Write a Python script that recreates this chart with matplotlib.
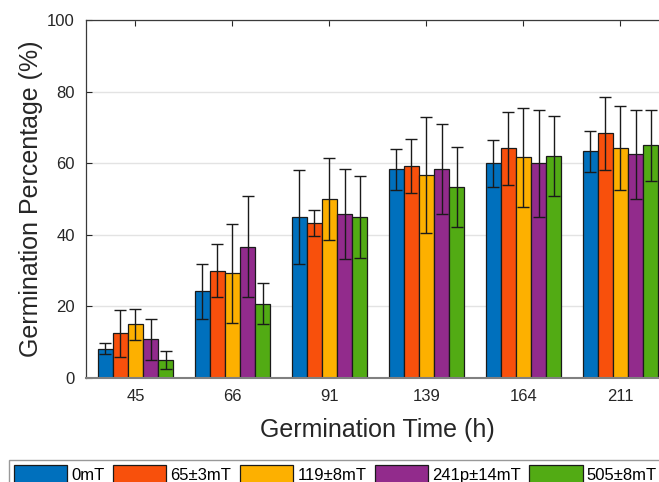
"""Germination percentage vs. germination time for five magnetic field levels."""
import matplotlib
matplotlib.use("Agg")
import matplotlib.pyplot as plt
import numpy as np

plt.rcParams["font.family"] = ["Liberation Sans", "DejaVu Sans"]

# Data
times = ["45", "66", "91", "139", "164", "211"]
labels = ["0mT", "65\u00b13mT", "119\u00b18mT", "241p\u00b114mT", "505\u00b18mT"]
colors = ["#0070BD", "#F8500C", "#FDB000", "#922B8C", "#52AB14"]

means = [
    [8.2, 24.2, 45.0, 58.3, 60.0, 63.3],   # 0mT
    [12.5, 30.0, 43.3, 59.2, 64.2, 68.3],  # 65±3mT
    [15.0, 29.2, 50.0, 56.7, 61.7, 64.2],  # 119±8mT
    [10.8, 36.7, 45.8, 58.3, 60.0, 62.5],  # 241p±14mT
    [5.0, 20.8, 45.0, 53.3, 62.1, 65.0],   # 505±8mT
]
errors = [
    [1.6, 7.7, 13.2, 5.8, 6.6, 5.8],
    [6.5, 7.5, 3.7, 7.6, 10.2, 10.1],
    [4.3, 13.8, 11.5, 16.2, 13.8, 11.8],
    [5.8, 14.2, 12.6, 12.6, 15.0, 12.5],
    [2.5, 5.7, 11.5, 11.2, 11.2, 10.0],
]


def main():
    fig = plt.figure(figsize=(6.59, 4.82), dpi=100)
    ax = fig.add_axes([86 / 659, 104 / 482, 583 / 659, 358 / 482])

    x = np.arange(len(times))
    width = 0.155
    handles = []
    for k, (m, e, c, lab) in enumerate(zip(means, errors, colors, labels)):
        pos = x + (k - 2) * width
        b = ax.bar(pos, m, width, color=c, edgecolor="#1a1a1a", linewidth=0.9,
                   label=lab, zorder=2)
        ax.errorbar(pos, m, yerr=e, fmt="none", ecolor="#1a1a1a", elinewidth=1.0,
                    capsize=4.5, capthick=1.0, zorder=3)
        handles.append(b)

    ax.set_xlim(-0.51, 5.5)
    ax.set_ylim(0, 100)
    ax.set_xticks(x)
    ax.set_xticklabels(times)
    ax.set_yticks(np.arange(0, 101, 20))
    ax.tick_params(direction="in", length=4, labelsize=12, colors="#262626",
                   top=True, pad=8)
    ax.yaxis.grid(True, color="#e3e3e3", linewidth=1.0, zorder=0)
    ax.set_axisbelow(True)
    for sp in ax.spines.values():
        sp.set_color("#3a3a3a")
        sp.set_linewidth(0.9)
    ax.spines["bottom"].set_color("#808080")
    ax.spines["bottom"].set_linewidth(1.5)

    ax.set_xlabel("Germination Time (h)", fontsize=18, color="#262626", labelpad=10)
    ax.set_ylabel("Germination Percentage (%)", fontsize=18, color="#262626", labelpad=3)

    leg = fig.legend(handles, labels, loc="upper left", bbox_to_anchor=(9 / 659, 1 - 460 / 482),
                     ncol=5, fontsize=12, handlelength=3.2, handleheight=1.4,
                     handletextpad=0.25, columnspacing=0.5, borderpad=0.3,
                     borderaxespad=0, frameon=True, fancybox=False)
    leg.get_frame().set_edgecolor("#808080")
    leg.get_frame().set_linewidth(1.0)

    fig.savefig("out.png", dpi=100)


if __name__ == "__main__":
    main()
